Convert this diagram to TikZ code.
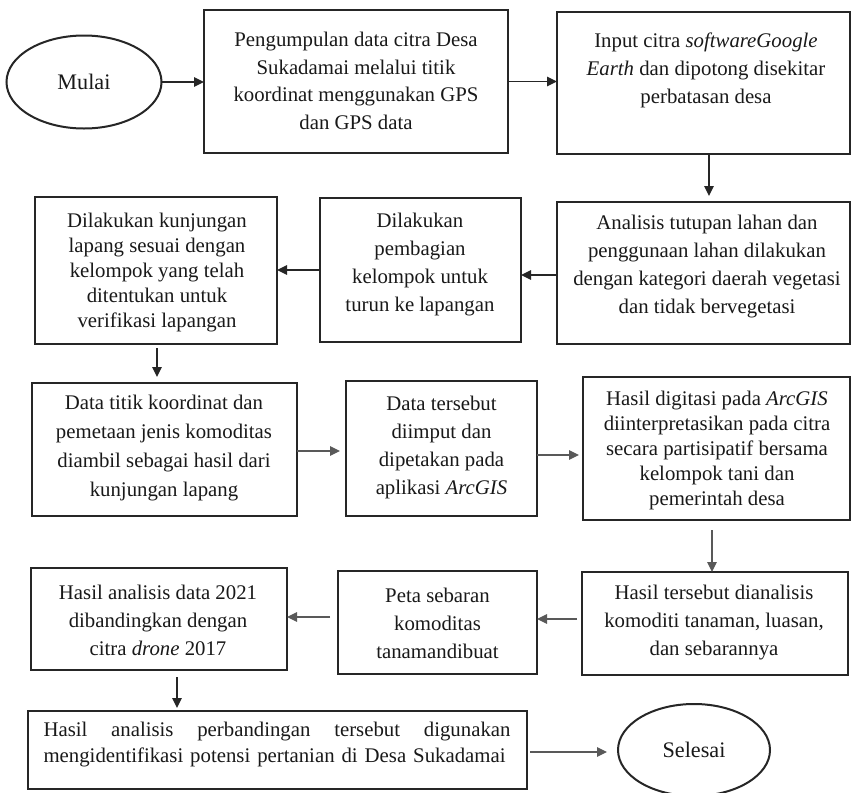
\documentclass[tikz,border=0pt]{standalone}
\usepackage{fontspec}
\setmainfont{Liberation Serif}
\usetikzlibrary{arrows.meta,shapes.geometric}
\newcommand\mkbox[5]{\node[boxst, minimum width={#4-#2}, minimum height={#5-#3}] (#1) at (#2,#3) {};}
\begin{document}
\begin{tikzpicture}[x=1pt,y=-1pt,
  boxst/.style={draw=black!85, line width=2pt, rectangle, inner sep=0pt, outer sep=0pt, anchor=north west},
  ellst/.style={draw=black!85, line width=2pt, ellipse, inner sep=0pt, outer sep=0pt, font=\fontsize{22.2}{26}\selectfont, text=black!90},
  txt/.style={align=center, inner sep=0pt, text=black!90, font=\fontsize{20.8}{28}\selectfont},
  sp25/.style={font=\fontsize{20.8}{25}\selectfont},
  sp277/.style={font=\fontsize{20.8}{27.7}\selectfont},
  sp29/.style={font=\fontsize{20.8}{29}\selectfont},
  arr/.style={-{Triangle[length=10pt,width=9.5pt]}, line width=1.4pt, draw=black!85},
  arrl/.style={-{Triangle[length=10pt,width=9.5pt]}, line width=1.2pt, draw=black!65}
]
\useasboundingbox (0,0) rectangle (852,793);
\fill[white] (0,0) rectangle (852,793);

% ellipses
\node[ellst, minimum width=155pt, minimum height=93pt] (mulai) at (84,82) {Mulai};
\node[ellst, minimum width=152pt, minimum height=92pt] (sel) at (694,750) {Selesai};

% boxes
\mkbox{b1}{204}{10}{508}{153}
\mkbox{b2}{557}{12}{850}{154}
\mkbox{b3}{557}{202}{850}{344}
\mkbox{b4}{320}{198}{521}{342}
\mkbox{b5}{35}{197}{277}{344}
\mkbox{b6}{32}{383}{297}{516}
\mkbox{b7}{346}{381}{537}{516}
\mkbox{b8}{583}{377}{850}{520}
\mkbox{b9}{582}{572}{848}{675}
\mkbox{b10}{338}{571}{537}{674}
\mkbox{b11}{31}{568}{287}{670}
\mkbox{b12}{28}{711}{527}{789}

% texts
\node[txt, sp277] (t1) at (356,81) {Pengumpulan data citra Desa\\Sukadamai melalui titik\\koordinat menggunakan GPS\\dan GPS data};
\node[txt] (t2) at (706,70) {Input citra \textit{softwareGoogle}\\\textit{Earth} dan dipotong disekitar\\perbatasan desa};
\node[txt, sp277] (t3) at (707,266.5) {Analisis tutupan lahan dan\\penggunaan lahan dilakukan\\dengan kategori daerah vegetasi\\dan tidak bervegetasi};
\node[txt] (t4) at (420,265) {Dilakukan\\pembagian\\kelompok untuk\\turun ke lapangan};
\node[txt, sp25] (t5) at (157,273) {Dilakukan kunjungan\\lapang sesuai dengan\\kelompok yang telah\\ditentukan untuk\\verifikasi lapangan};
\node[txt, sp29] (t6) at (164,448) {Data titik koordinat dan\\pemetaan jenis komoditas\\diambil sebagai hasil dari\\kunjungan lapang};
\node[txt] (t7) at (441.5,447) {Data tersebut\\diimput dan\\dipetakan pada\\aplikasi \textit{ArcGIS}};
\node[txt, sp25] (t8) at (717,450) {Hasil digitasi pada \textit{ArcGIS}\\diinterpretasikan pada citra\\secara partisipatif bersama\\kelompok tani dan\\pemerintah desa};
\node[txt] (t9) at (714,623) {Hasil tersebut dianalisis\\komoditi tanaman, luasan,\\dan sebarannya};
\node[txt] (t10) at (437.5,623) {Peta sebaran\\komoditas\\tanamandibuat};
\node[txt] (t11) at (158,620) {Hasil analisis data 2021\\dibandingkan dengan\\citra \textit{drone} 2017};
\node[txt, font=\fontsize{20.8}{26}\selectfont, align=left, text width=467pt] (t12) at (277,745) {\hbox to 467pt{Hasil\hfill analisis\hfill perbandingan\hfill tersebut\hfill digunakan}\\mengidentifikasi potensi pertanian di Desa Sukadamai};

% connectors
\draw[arr] (mulai.east) -- (mulai.east -| b1.west);
\draw[arr] (b1.east) -- (b1.east -| b2.west);
\draw[arr, shorten >=6pt] ([xshift=5.5pt]b2.south) -- ([xshift=5.5pt]b2.south |- b3.north);
\draw[arr] ([yshift=-2pt]b3.west) -- ([yshift=-2pt]b3.west -| b4.east);
\draw[arr] (b4.west) -- (b4.west -| b5.east);
\draw[arr, shorten <=4pt, shorten >=6pt] ([xshift=1pt]b5.south) -- ([xshift=1pt]b5.south |- b6.north);
\draw[arrl, shorten >=6pt] ([yshift=-1.5pt]b6.east) -- ([yshift=-1.5pt]b6.east -| b7.west);
\draw[arrl, shorten >=4pt] ([yshift=-6.5pt]b7.east) -- ([yshift=-6.5pt]b7.east -| b8.west);
\draw[arrl, shorten <=10pt] ([xshift=-4.5pt]b8.south) -- ([xshift=-4.5pt]b8.south |- b9.north);
\draw[arrl, shorten <=5pt] ([yshift=4.5pt]b9.west) -- ([yshift=4.5pt]b9.west -| b10.east);
\draw[arrl, shorten <=8pt] ([yshift=5.5pt]b10.west) -- ([yshift=5.5pt]b10.west -| b11.east);
\draw[arr, shorten <=7pt, shorten >=3pt] ([xshift=18pt]b11.south) -- ([xshift=18pt]b11.south |- b12.north);
\draw[arrl, shorten <=3pt, shorten >=11pt] ([yshift=-2pt]b12.east) -- ([yshift=-2pt]b12.east -| sel.west);
\end{tikzpicture}
\end{document}
